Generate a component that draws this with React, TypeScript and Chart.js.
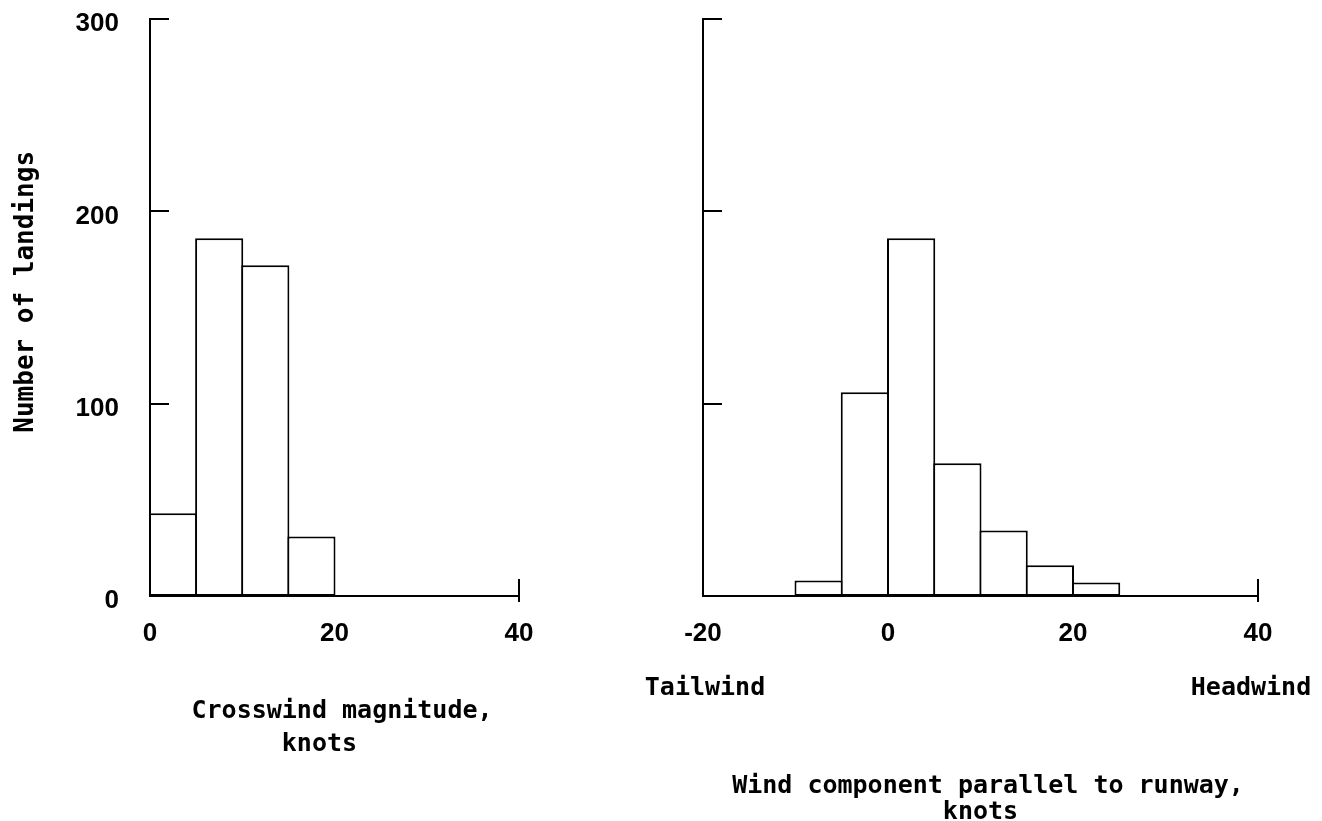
import React, { useEffect, useRef } from 'react';
import { Chart, registerables } from 'chart.js';

Chart.register(...registerables);

// ---------------- data ----------------
const BIN_WIDTH = 5;
const crossBinStarts = [0, 5, 10, 15];
const crossCounts = [43, 186, 172, 31];
const parallelBinStarts = [-10, -5, 0, 5, 10, 15, 20];
const parallelCounts = [8, 106, 186, 69, 34, 16, 7];
const countTicks = [0, 100, 200, 300];
const crossXTicks = [0, 20, 40];
const parallelXTicks = [-20, 0, 20, 40];
const yTitle = 'Number of landings';
const crossTitle = ['Crosswind magnitude,', 'knots'];
const parallelTitle = ['Wind component parallel to runway,', 'knots'];
const windEnds = ['Tailwind', 'Headwind'];

// ---------------- styling ----------------
const MONO = "'DejaVu Sans Mono', 'Liberation Mono', monospace";
const SANS = "'Liberation Sans', Arial, sans-serif";
const PAGE_W = 1322;
const PAGE_H = 821;
const PLOT_TOP = 19;
const PLOT_BOTTOM = 596;
const BORDER = 2;

type PanelSpec = {
  canvasLeft: number;
  canvasWidth: number;
  plotLeft: number;
  plotRight: number;
  starts: number[];
  counts: number[];
  xMin: number;
  xMax: number;
  xTicks: number[];
  title: string[];
  titleLineHeight: number;
  titlePadBottom: number;
  showY: boolean;
  ends?: string[];
};

function makeTickMarks() {
  return {
    id: 'tickMarks',
    afterDraw(chart: any) {
      const { ctx, chartArea, scales } = chart;
      const y = scales.y;
      const x = scales.x;
      ctx.save();
      ctx.strokeStyle = '#000';
      ctx.lineWidth = 2;
      ctx.beginPath();
      y.ticks.forEach((t: any) => {
        if (t.value > y.min) {
          const py = Math.round(y.getPixelForValue(t.value));
          ctx.moveTo(chartArea.left, py);
          ctx.lineTo(chartArea.left + 19, py);
        }
      });
      const px = Math.round(x.getPixelForValue(x.max));
      ctx.moveTo(px, chartArea.bottom - 17);
      ctx.lineTo(px, chartArea.bottom + 6);
      ctx.stroke();
      ctx.restore();
    },
  };
}

function makeEndLabels(labels?: string[]) {
  return {
    id: 'endLabels',
    afterDraw(chart: any) {
      if (!labels) return;
      const { ctx, scales } = chart;
      const x = scales.x;
      ctx.save();
      ctx.font = `bold 25px ${MONO}`;
      ctx.fillStyle = '#000';
      ctx.textAlign = 'center';
      ctx.textBaseline = 'alphabetic';
      ctx.fillText(labels[0], x.getPixelForValue(x.min) + 2, 695);
      ctx.fillText(labels[1], x.getPixelForValue(x.max) - 7, 695);
      ctx.restore();
    },
  };
}

function buildConfig(p: PanelSpec): any {
  const plotW = p.plotRight - p.plotLeft;
  const binPx = (BIN_WIDTH * plotW) / (p.xMax - p.xMin);
  const barPct = (binPx + BORDER) / binPx;
  const yAxisWidth = p.plotLeft - p.canvasLeft;
  const padRight = p.canvasLeft + p.canvasWidth - p.plotRight;
  return {
    type: 'bar',
    data: {
      datasets: [
        {
          data: p.starts.map((s, i) => ({ x: s + BIN_WIDTH / 2, y: p.counts[i] })),
          backgroundColor: '#ffffff',
          borderColor: '#000000',
          borderWidth: BORDER,
          borderSkipped: false,
          inflateAmount: 0,
          barPercentage: barPct,
          categoryPercentage: 1,
        },
      ],
    },
    options: {
      responsive: false,
      animation: false,
      events: [],
      layout: { padding: { left: 0, top: PLOT_TOP, right: padRight, bottom: 0 } },
      plugins: { legend: { display: false }, tooltip: { enabled: false }, title: { display: false } },
      scales: {
        x: {
          type: 'linear',
          min: p.xMin,
          max: p.xMax,
          offset: false,
          grid: { display: false },
          border: { display: true, color: '#000', width: BORDER },
          afterBuildTicks: (s: any) => {
            s.ticks = p.xTicks.map((v) => ({ value: v }));
          },
          afterFit: (s: any) => {
            s.height = PAGE_H - PLOT_BOTTOM;
            s.paddingLeft = 0;
            s.paddingRight = 0;
          },
          ticks: {
            color: '#000',
            padding: 14,
            maxRotation: 0,
            autoSkip: false,
            font: { family: SANS, size: 26, weight: 'bold' },
          },
          title: {
            display: true,
            text: p.title,
            color: '#000',
            font: { family: MONO, size: 25, weight: 'bold', lineHeight: `${p.titleLineHeight}px` },
            padding: { top: 0, bottom: p.titlePadBottom },
          },
        },
        y: {
          type: 'linear',
          min: 0,
          max: 300,
          grid: { display: false },
          border: { display: true, color: '#000', width: BORDER },
          afterBuildTicks: (s: any) => {
            s.ticks = countTicks.map((v) => ({ value: v }));
          },
          afterFit: (s: any) => {
            s.width = yAxisWidth;
            s.paddingTop = 0;
            s.paddingBottom = 0;
          },
          ticks: {
            display: p.showY,
            color: '#000',
            padding: 23,
            labelOffset: 5,
            font: { family: SANS, size: 26, weight: 'bold' },
          },
          title: {
            display: p.showY,
            text: '  ' + yTitle,
            color: '#000',
            font: { family: MONO, size: 26, weight: 'bold', lineHeight: '31px' },
            padding: { top: 10.5, bottom: 0 },
          },
        },
      },
    },
    plugins: [makeTickMarks(), makeEndLabels(p.ends)],
  };
}

const leftSpec: PanelSpec = {
  canvasLeft: 0,
  canvasWidth: 600,
  plotLeft: 150,
  plotRight: 519,
  starts: crossBinStarts,
  counts: crossCounts,
  xMin: 0,
  xMax: 40,
  xTicks: crossXTicks,
  title: [' ' + crossTitle[0], crossTitle[1] + '  '],
  titleLineHeight: 33,
  titlePadBottom: 60.5,
  showY: true,
};

const rightSpec: PanelSpec = {
  canvasLeft: 600,
  canvasWidth: 722,
  plotLeft: 703,
  plotRight: 1258,
  starts: parallelBinStarts,
  counts: parallelCounts,
  xMin: -20,
  xMax: 40,
  xTicks: parallelXTicks,
  title: [' ' + parallelTitle[0], parallelTitle[1]],
  titleLineHeight: 26,
  titlePadBottom: -4,
  showY: false,
  ends: windEnds,
};

function Panel({ spec }: { spec: PanelSpec }) {
  const ref = useRef<HTMLCanvasElement | null>(null);
  useEffect(() => {
    if (!ref.current) return;
    const chart = new Chart(ref.current, buildConfig(spec));
    return () => chart.destroy();
  }, [spec]);
  return (
    <canvas
      ref={ref}
      width={spec.canvasWidth}
      height={PAGE_H}
      style={{
        position: 'absolute',
        left: spec.canvasLeft,
        top: 0,
        width: spec.canvasWidth,
        height: PAGE_H,
        display: 'block',
      }}
    />
  );
}

export default function App() {
  return (
    <div
      style={{
        position: 'absolute',
        left: 0,
        top: 0,
        width: PAGE_W,
        height: PAGE_H,
        overflow: 'hidden',
        background: '#fff',
      }}
    >
      <Panel spec={leftSpec} />
      <Panel spec={rightSpec} />
    </div>
  );
}
